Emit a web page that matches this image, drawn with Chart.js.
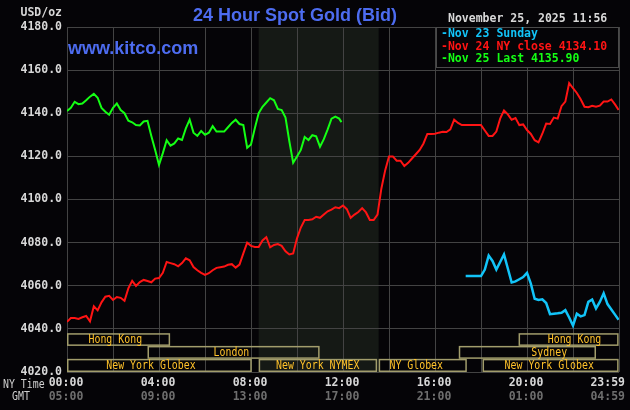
<!DOCTYPE html>
<html>
<head>
<meta charset="utf-8">
<script src="https://cdn.jsdelivr.net/npm/chart.js@4"></script>
<style>
  html, body { margin: 0; padding: 0; background: #050407; }
  canvas { display: block; }
</style>
</head>
<body>
<canvas id="chart" width="630" height="410"></canvas>
<script>
// sample spacing in minutes after 00:00 NY time
const STEP = 10
const DAY_END = 1439

// Nov 24 (NY close 4134.10), 00:00 .. 23:59
const redStart = 0
const redValues = [
  4043.3, 4045, 4045, 4044.6, 4045.4, 4046, 4043.5, 4050.5, 4048.6, 4052.3,
  4054.9, 4055.3, 4053.4, 4054.8, 4054.4, 4053, 4058.8, 4062.3, 4059.9, 4061.7,
  4062.7, 4062.2, 4061.6, 4063.3, 4063.6, 4066, 4071, 4070.5, 4070, 4069,
  4070.5, 4072.7, 4071.8, 4068.7, 4067.2, 4066, 4065, 4065.8, 4067.2, 4068.3,
  4068.6, 4068.9, 4069.7, 4070, 4068.4, 4069.8, 4075, 4080, 4078.5, 4078,
  4078, 4081, 4082.5, 4077.8, 4078.9, 4079.3, 4078.5, 4076, 4074.5, 4075,
  4082, 4087, 4090.5, 4090.5, 4090.8, 4092, 4091.5, 4093, 4094.5, 4095.3,
  4096.4, 4096, 4097.2, 4095.5, 4091.5, 4093, 4094.2, 4096, 4094, 4090.5,
  4090.5, 4093, 4105, 4113.5, 4120, 4120, 4118, 4118, 4115.5, 4117,
  4119, 4121, 4123, 4126, 4130.4, 4130.4, 4130.5, 4131, 4131.4, 4131.3,
  4132.5, 4137, 4135.5, 4134.5, 4134.5, 4134.5, 4134.5, 4134.5, 4134.5, 4132,
  4129.5, 4129.5, 4131.5, 4137.5, 4141.3, 4139.5, 4137, 4137.8, 4134.5, 4134.8,
  4132.2, 4130.4, 4127.5, 4126.5, 4130.5, 4135.2, 4135, 4138, 4137.5, 4143.3,
  4145.4, 4154, 4151.6, 4149.4, 4146.5, 4143, 4142.8, 4143.5, 4143, 4143.5,
  4145.4, 4145.4, 4146.4, 4144, 4141.5
]

// Nov 25, 00:00 .. 11:56
const greenStart = 0
const greenEnd = 716
const greenValues = [
  4141, 4142.5, 4145.3, 4144.2, 4144.5, 4146, 4147.7, 4149, 4147.2, 4142.5,
  4140.7, 4139.3, 4142.5, 4144.5, 4141.5, 4140, 4136.5, 4135.8, 4134.5, 4134.3,
  4136.2, 4136.5, 4129.5, 4123, 4116, 4121.5, 4127.5, 4125, 4126, 4128.3,
  4127.6, 4133, 4137, 4131, 4129.5, 4131.8, 4130, 4131, 4134, 4131.5,
  4131.5, 4131.5, 4133.5, 4135.5, 4137, 4135, 4134.5, 4124, 4125.5, 4133,
  4140, 4143, 4145, 4147, 4146, 4142, 4141.5, 4138, 4127, 4117,
  4119.9, 4123, 4129, 4127.6, 4129.8, 4129.3, 4124.5, 4128, 4132.5, 4137.5,
  4138.4, 4137.5, 4135.9
]

// Nov 23 Sunday, from the evening open
const cyanStart = 1040
const cyanValues = [
  4064.5, 4064.5, 4064.5, 4064.5, 4064.5, 4067.5, 4074, 4071.5, 4067.5, 4071,
  4074.5, 4068, 4061.5, 4062, 4063, 4064, 4066, 4061, 4054, 4053.4,
  4053.7, 4052, 4046.8, 4047, 4047.2, 4047.5, 4048.7, 4045.3, 4041.5, 4047,
  4045.8, 4046.4, 4052.5, 4053.6, 4049.5, 4052.5, 4056.5, 4051.5, 4049, 4046.5,
  4044.2
]

const legendLines = [
  { text: '-Nov 23 Sunday', color: '#12c4f8' },
  { text: '-Nov 24 NY close 4134.10', color: '#ff1414' },
  { text: '-Nov 25 Last 4135.90', color: '#14ff14' },
]

const yMin = 4020
const yMax = 4180
const yStep = 20

const timeTicks = [0, 240, 480, 720, 960, 1200, 1439]
const nyLabels = ['00:00', '04:00', '08:00', '12:00', '16:00', '20:00', '23:59']
const gmtLabels = ['05:00', '09:00', '13:00', '17:00', '21:00', '01:00', '04:59']

// NYMEX pit hours (shaded)
const nymexOpen = 500
const nymexClose = 813

// session rows live in the band under 4040
const rowEdges = [4038, 4032.1, 4026.1, 4020]
const sessions = [
  { name: 'Hong Kong', start: 0, end: 269, row: 0, labelAt: 126 },
  { name: 'Hong Kong', start: 1178, end: 1439, row: 0, labelAt: 1324 },
  { name: 'London', start: 210, end: 659, row: 1, labelAt: 429 },
  { name: 'Sydney', start: 1022, end: 1380, row: 1, labelAt: 1258 },
  { name: 'New York Globex', start: 0, end: 482, row: 2, labelAt: 219 },
  { name: 'New York NYMEX', start: 500, end: 809, row: 2, labelAt: 654 },
  { name: 'NY Globex', start: 813, end: 1043, row: 2, labelAt: 911 },
  { name: 'New York Globex', start: 1084, end: 1439, row: 2, labelAt: 1258 },
]

const MONO = '"DejaVu Sans Mono", monospace'
const monoFont = 'bold 11.5px ' + MONO
const narrowFont = '11.5px ' + MONO

function toPoints(start, end, values) {
  return values.map((v, i) => ({ x: Math.min(start + i * STEP, end), y: v }))
}

// the original uses a narrow bitmap face for some labels
function narrowText(ctx, text, x, y) {
  ctx.save()
  ctx.translate(x, y)
  ctx.scale(0.86, 1)
  ctx.fillText(text, 0, 0)
  ctx.restore()
}

const kitcoFrame = {
  id: 'kitcoFrame',
  beforeDraw(chart) {
    const { ctx, chartArea, scales } = chart
    ctx.save()
    ctx.fillStyle = '#050407'
    ctx.fillRect(0, 0, chart.width, chart.height)
    const x0 = scales.x.getPixelForValue(nymexOpen)
    const x1 = scales.x.getPixelForValue(nymexClose)
    ctx.fillStyle = '#151915'
    ctx.fillRect(x0, chartArea.top, x1 - x0, chartArea.bottom - chartArea.top)
    ctx.restore()
  },
  afterDatasetsDraw(chart) {
    const { ctx, chartArea, scales } = chart
    const x = scales.x
    const y = scales.y
    ctx.save()

    // session boxes
    ctx.strokeStyle = '#a29d6c'
    ctx.lineWidth = 1.5
    ctx.font = narrowFont
    ctx.textAlign = 'center'
    ctx.textBaseline = 'middle'
    sessions.forEach((s) => {
      const l = x.getPixelForValue(s.start)
      const r = x.getPixelForValue(s.end)
      const t = y.getPixelForValue(rowEdges[s.row])
      const b = y.getPixelForValue(rowEdges[s.row + 1])
      ctx.strokeRect(l + 0.75, t + 0.75, r - l - 1.5, b - t - 1.5)
      ctx.fillStyle = '#ffc22a'
      narrowText(ctx, s.name, x.getPixelForValue(s.labelAt), (t + b) / 2 + 0.5)
    })

    // legend box in the top right corner
    const lw = 183
    const lh = 40
    const lx = chartArea.right - lw
    const ly = chartArea.top
    ctx.fillStyle = '#050407'
    ctx.fillRect(lx, ly, lw, lh)
    ctx.strokeStyle = '#4a4a4a'
    ctx.lineWidth = 1
    ctx.strokeRect(lx + 0.5, ly + 0.5, lw - 1, lh)
    ctx.font = monoFont
    ctx.textAlign = 'left'
    legendLines.forEach((item, i) => {
      ctx.fillStyle = item.color
      ctx.fillText(item.text, lx + 5, ly + 7.5 + i * 12.5)
    })
    ctx.restore()
  },
  afterDraw(chart) {
    const { ctx, scales } = chart
    const x = scales.x
    ctx.save()
    ctx.textBaseline = 'middle'

    ctx.fillStyle = '#4d6cf0'
    ctx.font = 'bold 18px "Liberation Sans", Arial, sans-serif'
    ctx.textAlign = 'center'
    ctx.fillText('24 Hour Spot Gold (Bid)', 295, 16)
    ctx.textAlign = 'left'
    ctx.fillText('www.kitco.com', 68, 49)

    ctx.font = monoFont
    ctx.fillStyle = '#d8d8d8'
    ctx.fillText('November 25, 2025 11:56', 448, 19.5)
    ctx.textAlign = 'right'
    ctx.fillText('USD/oz', 62, 13.5)

    ctx.font = narrowFont
    ctx.textAlign = 'left'
    ctx.fillStyle = '#d0d0d0'
    narrowText(ctx, 'NY Time', 3, 385)
    narrowText(ctx, 'GMT', 12, 397.5)

    ctx.font = monoFont
    ctx.textAlign = 'center'
    timeTicks.forEach((t, i) => {
      const w = ctx.measureText(nyLabels[i]).width
      const cx = Math.min(x.getPixelForValue(t) - 1, chart.width - 5 - w / 2)
      ctx.fillStyle = '#d8d8d8'
      ctx.fillText(nyLabels[i], cx, 383.5)
      ctx.fillStyle = '#6e6e6e'
      ctx.fillText(gmtLabels[i], cx, 397.5)
    })
    ctx.restore()
  },
}

new Chart(document.getElementById('chart'), {
  type: 'line',
  data: {
    datasets: [
      {
        label: 'Nov 25',
        data: toPoints(greenStart, greenEnd, greenValues),
        borderColor: '#14ff14',
        borderWidth: 2,
        pointRadius: 0,
        tension: 0,
      },
      {
        label: 'Nov 24',
        data: toPoints(redStart, DAY_END, redValues),
        borderColor: '#ff1414',
        borderWidth: 2,
        pointRadius: 0,
        tension: 0,
      },
      {
        label: 'Nov 23',
        data: toPoints(cyanStart, DAY_END, cyanValues),
        borderColor: '#12c4f8',
        borderWidth: 2.5,
        pointRadius: 0,
        tension: 0,
      },
    ],
  },
  options: {
    responsive: false,
    animation: false,
    layout: { padding: { top: 27, right: 11, left: 0, bottom: 0 } },
    scales: {
      x: {
        type: 'linear',
        min: 0,
        max: 1440,
        ticks: { display: false, stepSize: 120 },
        grid: { color: '#434343', drawTicks: false },
        border: { display: false },
        afterFit: (s) => { s.height = 38 },
      },
      y: {
        min: yMin,
        max: yMax,
        ticks: {
          stepSize: yStep,
          padding: 5,
          color: '#d8d8d8',
          font: { family: MONO, size: 11.5, weight: 'bold' },
          callback: (v) => v.toFixed(1),
        },
        grid: { color: '#434343', drawTicks: false },
        border: { display: false },
        afterFit: (s) => { s.width = 67 },
      },
    },
    plugins: {
      legend: { display: false },
      tooltip: { enabled: false },
    },
  },
  plugins: [kitcoFrame],
})
</script>
</body>
</html>
